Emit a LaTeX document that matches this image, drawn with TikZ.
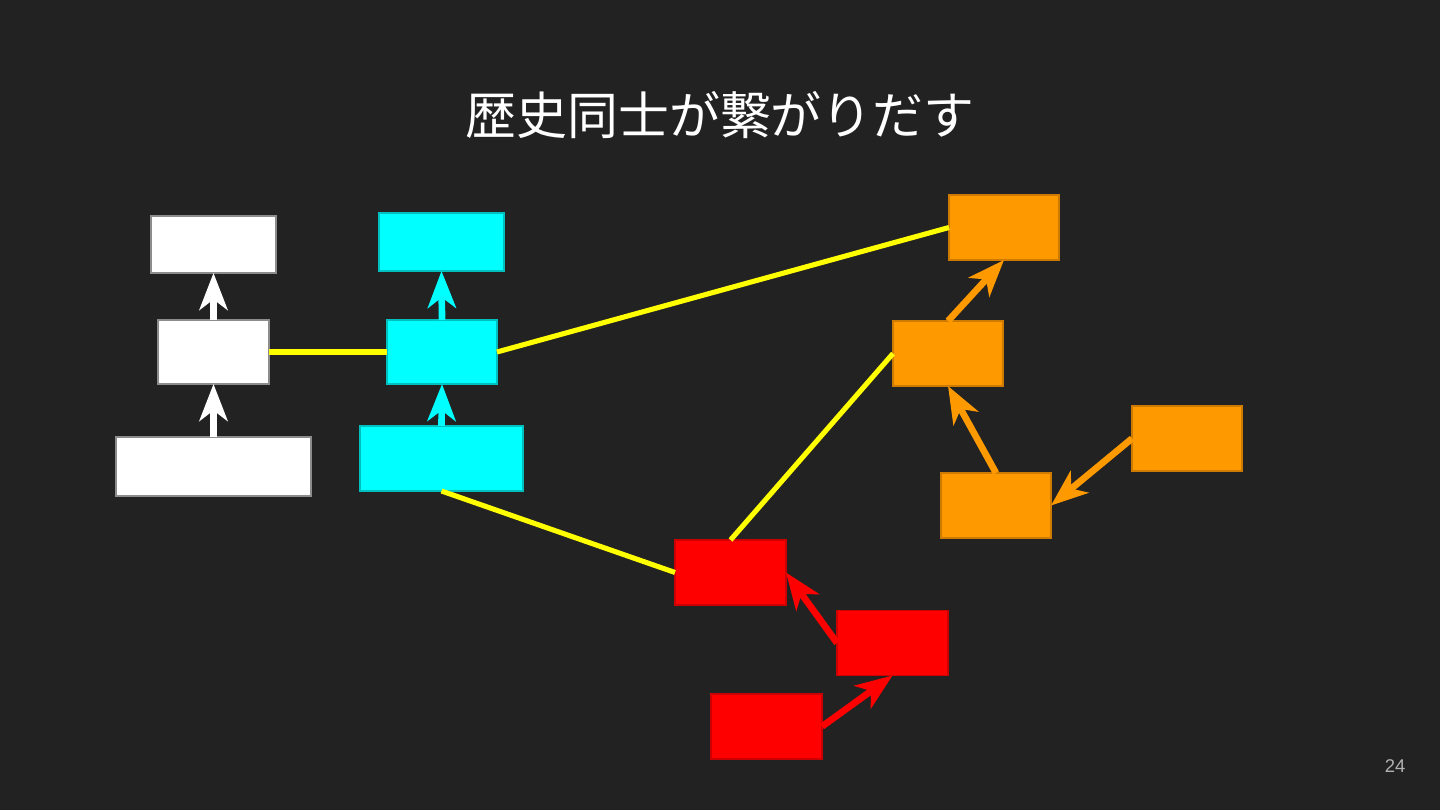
\documentclass[tikz,border=0pt]{standalone}
\usepackage{fontspec}
\newfontfamily\cjk{Noto Sans CJK JP}
\newfontfamily\numfont{Liberation Sans}
\usetikzlibrary{arrows.meta}
\definecolor{bgdark}{HTML}{222222}
\definecolor{hcyan}{HTML}{00FFFF}
\definecolor{horange}{HTML}{FF9900}
\definecolor{hred}{HTML}{FF0000}
\definecolor{hyellow}{HTML}{FFFF00}

\begin{document}
\begin{tikzpicture}[x=0.02cm, y=-0.02cm,
    hist/.style={rectangle, inner sep=0pt, outer sep=0pt, line width=0.6pt},
    wbox/.style={hist, fill=white, draw=white!55!black},
    cbox/.style={hist, fill=hcyan, draw=hcyan!75!black},
    obox/.style={hist, fill=horange, draw=horange!80!black, minimum width=2.2cm, minimum height=1.3cm},
    rbox/.style={hist, fill=hred, draw=hred!80!black, minimum width=2.22cm, minimum height=1.3cm},
    link/.style={hyellow, line width=2.9pt},
    parent/.style={line width=3.8pt, -{Stealth[length=21pt, width=16pt, inset=6pt]}}]
                \fill[bgdark] (0,0) rectangle (1440,810);
                \useasboundingbox (0,0) rectangle (1440,810);
                \node[text=white, font=\cjk\fontsize{29}{35}\selectfont] (title) at (720,115) {歴史同士が繋がりだす};
                \node[text=white!70!black, font=\numfont\fontsize{10.5}{12}\selectfont] (pagenum) at (1395,766) {24};
                \node[wbox, minimum width=2.5cm, minimum height=1.14cm] (w1) at (213.5,244.5) {};
                \node[wbox, minimum width=2.22cm, minimum height=1.28cm] (w2) at (213.5,352) {};
                \node[wbox, minimum width=3.9cm, minimum height=1.18cm] (w3) at (213.5,466.5) {};
                \node[cbox, minimum width=2.5cm, minimum height=1.16cm] (c1) at (441.5,242) {};
                \node[cbox, minimum width=2.2cm, minimum height=1.28cm] (c2) at (442,352) {};
                \node[cbox, minimum width=3.26cm, minimum height=1.3cm] (c3) at (441.5,458.5) {};
                \node[obox] (o1) at (1004,227.5) {};
                \node[obox] (o2) at (948,353.5) {};
                \node[obox] (o3) at (1187,438.5) {};
                \node[obox] (o4) at (996,505.5) {};
                \node[rbox] (r1) at (730.5,572.5) {};
                \node[rbox] (r2) at (892.5,643) {};
                \node[rbox] (r3) at (766.5,726.5) {};
                \draw[link] (w2.east) -- (c2.west);
                \draw[link] (c2.east) -- (o1.west);
                \draw[link] (c3.south) -- (r1.west);
                \draw[link] (r1.north) -- (o2.west);
                \draw[parent, white] (w2.north) -- (w1.south);
                \draw[parent, white] (w3.north) -- (w2.south);
                \draw[parent, hcyan] (c2.north) -- (c1.south);
                \draw[parent, hcyan] (c3.north) -- (c2.south);
                \draw[parent, horange] (o2.north) -- (o1.south);
                \draw[parent, horange] (o4.north) -- (o2.south);
                \draw[parent, horange] (o3.west) -- (o4.east);
                \draw[parent, hred] (r2.west) -- (r1.east);
                \draw[parent, hred] (r3.east) -- (r2.south);
            \end{tikzpicture}
\end{document}
